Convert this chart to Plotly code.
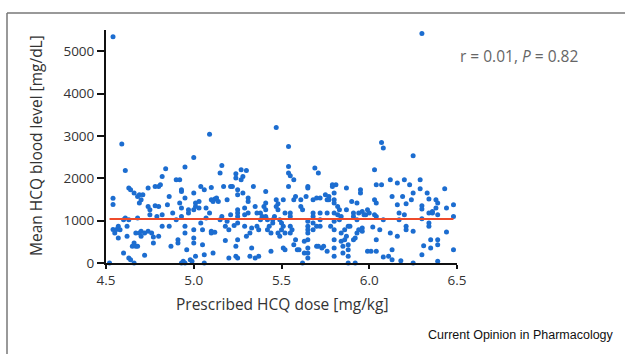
import plotly.graph_objects as go

# Prescribed HCQ dose [mg/kg] for each patient
dose = [
    4.54, 4.52, 4.54, 4.54, 4.55, 4.54, 4.56, 4.57, 4.57, 4.59,
    4.60, 4.61, 4.60, 4.61, 4.58, 4.62, 4.62, 4.63, 4.63, 4.64,
    4.63, 4.64, 4.66, 4.65, 4.66, 4.67, 4.68, 4.66, 4.68, 4.69,
    4.70, 4.71, 4.69, 4.68, 4.67, 4.69, 4.70, 4.70, 4.72, 4.72,
    4.74, 4.74, 4.75, 4.75, 4.74, 4.76, 4.77, 4.77, 4.78, 4.79,
    4.80, 4.80, 4.78, 4.80, 4.81, 4.82, 4.82, 4.82, 4.84, 4.85,
    4.86, 4.86, 4.87, 4.88, 4.90, 4.90, 4.91, 4.92, 4.93, 4.93,
    4.92, 4.93, 4.93, 4.91, 4.93, 4.94, 4.95, 4.95, 4.95, 4.95,
    4.95, 4.96, 4.97, 4.97, 4.98, 4.99, 5.00, 5.00, 5.01, 5.01,
    5.00, 5.00, 5.00, 5.00, 5.01, 5.03, 5.03, 5.04, 5.04, 5.05,
    5.06, 5.05, 5.06, 5.06, 5.07, 5.07, 5.10, 5.10, 5.09, 5.10,
    5.10, 5.09, 5.11, 5.12, 5.11, 5.12, 5.13, 5.14, 5.15, 5.15,
    5.16, 5.16, 5.17, 5.18, 5.18, 5.19, 5.19, 5.20, 5.20, 5.21,
    5.21, 5.22, 5.23, 5.24, 5.24, 5.24, 5.25, 5.25, 5.25, 5.25,
    5.25, 5.25, 5.25, 5.24, 5.25, 5.27, 5.27, 5.28, 5.28, 5.29,
    5.29, 5.29, 5.30, 5.30, 5.31, 5.31, 5.31, 5.32, 5.32, 5.33,
    5.33, 5.34, 5.35, 5.35, 5.36, 5.36, 5.37, 5.37, 5.38, 5.38,
    5.39, 5.40, 5.41, 5.41, 5.41, 5.41, 5.42, 5.42, 5.43, 5.44,
    5.44, 5.45, 5.45, 5.46, 5.47, 5.47, 5.47, 5.48, 5.48, 5.48,
    5.49, 5.49, 5.50, 5.50, 5.51, 5.51, 5.52, 5.51, 5.52, 5.52,
    5.54, 5.54, 5.54, 5.55, 5.54, 5.55, 5.55, 5.55, 5.55, 5.56,
    5.57, 5.57, 5.57, 5.58, 5.58, 5.59, 5.60, 5.61, 5.61, 5.62,
    5.62, 5.63, 5.63, 5.64, 5.65, 5.65, 5.65, 5.65, 5.65, 5.65,
    5.65, 5.65, 5.65, 5.65, 5.68, 5.68, 5.68, 5.68, 5.68, 5.69,
    5.70, 5.70, 5.70, 5.71, 5.71, 5.72, 5.72, 5.72, 5.72, 5.73,
    5.74, 5.75, 5.76, 5.76, 5.76, 5.77, 5.77, 5.78, 5.79, 5.79,
    5.80, 5.80, 5.80, 5.80, 5.80, 5.80, 5.80, 5.80, 5.80, 5.81,
    5.82, 5.82, 5.83, 5.84, 5.83, 5.84, 5.84, 5.85, 5.85, 5.86,
    5.86, 5.87, 5.87, 5.87, 5.88, 5.88, 5.88, 5.88, 5.88, 5.89,
    5.90, 5.91, 5.91, 5.91, 5.92, 5.92, 5.93, 5.93, 5.93, 5.94,
    5.94, 5.95, 5.95, 5.96, 5.96, 5.96, 5.97, 5.98, 5.99, 5.99,
    6.00, 6.01, 6.02, 6.03, 6.03, 6.03, 6.04, 6.04, 6.04, 6.04,
    6.04, 6.06, 6.07, 6.08, 6.07, 6.08, 6.08, 6.11, 6.12, 6.12,
    6.13, 6.13, 6.13, 6.16, 6.16, 6.16, 6.17, 6.17, 6.18, 6.19,
    6.20, 6.21, 6.20, 6.21, 6.21, 6.23, 6.24, 6.25, 6.25, 6.25,
    6.25, 6.29, 6.29, 6.30, 6.30, 6.30, 6.30, 6.30, 6.31, 6.33,
    6.34, 6.34, 6.34, 6.34, 6.35, 6.35, 6.36, 6.36, 6.38, 6.39,
    6.38, 6.39, 6.39, 6.39, 6.39, 6.43, 6.44, 6.44, 6.48, 6.48,
    6.48,
]

# Mean HCQ blood level [mg/dL] for each patient
level = [
    5340, 0, 1530, 1380, 710, 790, 790, 590, 865, 2810,
    236, 2185, 1022, 1061, 786, 865, 629, 1022, 1769, 1729,
    118, 79, 0, 393, 472, 393, 393, 1651, 1572, 1611,
    1493, 1611, 1415, 1061, 707, 707, 629, 747, 707, 181,
    1769, 1336, 1258, 1140, 747, 707, 613, 472, 1352, 1100,
    1336, 629, 1808, 1808, 1847, 2044, 1140, 865, 2224, 1376,
    865, 1572, 393, 1179, 1965, 1022, 550, 1965, 1729, 1690,
    1415, 1297, 1100, 472, 0, 39, 2264, 1533, 865, 707,
    0, 314, 1258, 1179, 79, 39, 2492, 1651, 1415, 1336,
    1258, 786, 590, 472, 157, 1454, 1297, 943, 1808, 786,
    1729, 432, 0, 197, 1297, 1061, 1784, 1493, 1179, 747,
    707, 3042, 1454, 1509, 236, 723, 1533, 1454, 2122, 1022,
    1100, 2303, 1808, 865, 534, 1493, 983, 786, 118, 1140,
    1808, 1808, 888, 393, 2106, 2004, 1729, 1611, 1258, 1179,
    1100, 943, 550, 157, 118, 1965, 2200, 2044, 1651, 1297,
    1140, 865, 629, 2185, 1533, 1454, 1179, 707, 157, 825,
    354, 1808, 118, 1336, 865, 1179, 786, 157, 1179, 1022,
    1100, 1336, 1415, 1690, 1258, 1100, 1022, 786, 865, 275,
    707, 1022, 943, 1100, 1493, 1336, 3199, 1399, 707, 1258,
    629, 1022, 943, 786, 1493, 354, 314, 865, 707, 1179,
    2751, 2279, 2122, 2059, 1808, 1100, 865, 707, 1179, 786,
    432, 1493, 1965, 1572, 550, 314, 314, 1493, 1336, 0,
    1258, 511, 236, 1572, 1808, 1769, 983, 865, 786, 707,
    550, 354, 236, 118, 1493, 1179, 1100, 943, 786, 2240,
    1533, 393, 865, 393, 2122, 1179, 1533, 1022, 865, 354,
    393, 1611, 1493, 1179, 275, 1572, 1493, 865, 1847, 1808,
    1651, 1493, 1415, 1179, 983, 786, 550, 354, 157, 1847,
    1336, 1140, 1258, 1100, 1022, 707, 511, 393, 236, 786,
    550, 1769, 1258, 629, 432, 314, 0, 157, 865, 865,
    1454, 1179, 1100, 550, 0, 590, 1415, 1022, 707, 786,
    1179, 1729, 1651, 825, 747, 1218, 1140, 1140, 275, 1258,
    1179, 275, 849, 2200, 1140, 1493, 1100, 1415, 1847, 550,
    275, 786, 2845, 2712, 1847, 1022, 141, 157, 1965, 707,
    1572, 314, 79, 1886, 1376, 629, 1022, 1179, 55, 1572,
    1965, 1399, 1140, 865, 786, 1847, 1493, 2531, 747, 0,
    1651, 1965, 1753, 1352, 1273, 1045, 197, 5417, 409, 1651,
    1509, 1179, 943, 865, 550, 354, 1179, 1218, 1493, 1415,
    1297, 1140, 550, 432, 39, 1753, 1297, 731, 1376, 1100,
    314,
]

# Mean level line (red) across the dose range
mean_line_x = [4.52, 6.48]
mean_line_y = [1040, 1040]

x_ticks = [4.5, 5.0, 5.5, 6.0, 6.5]
x_tick_labels = ["4.5", "5.0", "5.5", "6.0", "6.5"]
y_ticks = [0, 1000, 2000, 3000, 4000, 5000]
y_tick_labels = ["0", "1000", "2000", "3000", "4000", "5000"]

W, H = 625, 354
L, R, T, B = 106, 168, 30, 91
pw, ph = W - L - R, H - T - B

fig = go.Figure()
fig.add_trace(go.Scatter(
    x=dose, y=level, mode="markers",
    marker=dict(color="#1c6dd0", size=5, line=dict(width=0)),
    cliponaxis=False, showlegend=False, hoverinfo="skip",
))
fig.add_trace(go.Scatter(
    x=mean_line_x, y=mean_line_y, mode="lines",
    line=dict(color="#ee4b2b", width=2),
    cliponaxis=False, showlegend=False, hoverinfo="skip",
))

axis_font = dict(family="Open Sans", size=13.5, color="#333333")
fig.update_xaxes(
    range=[4.5, 6.5], tickvals=x_ticks, ticktext=x_tick_labels,
    showgrid=False, zeroline=False, showline=True, linecolor="#111111", linewidth=2,
    ticks="outside", ticklen=4, tickwidth=2, tickcolor="#111111",
    tickfont=axis_font,
)
fig.update_yaxes(
    range=[0, 5500], tickvals=y_ticks, ticktext=y_tick_labels,
    showgrid=False, zeroline=False, showline=True, linecolor="#111111", linewidth=2,
    ticks="outside", ticklen=7, tickwidth=2, tickcolor="#111111",
    tickfont=axis_font,
)

def px_x(p):
    return (p - L) / pw

def px_y(p):
    return 1 - (p - T) / ph

annotations = [
    dict(text="Mean HCQ blood level [mg/dL]", textangle=-90,
         x=px_x(36), y=px_y(146), xref="paper", yref="paper",
         showarrow=False, xanchor="center", yanchor="middle",
         font=dict(family="Open Sans", size=15.5, color="#333333")),
    dict(text="Prescribed HCQ dose [mg/kg]",
         x=px_x(282), y=px_y(304), xref="paper", yref="paper",
         showarrow=False, xanchor="center", yanchor="middle",
         font=dict(family="Open Sans", size=15.5, color="#333333")),
    dict(text="r = 0.01, <i>P</i> = 0.82",
         x=px_x(519), y=px_y(56), xref="paper", yref="paper",
         showarrow=False, xanchor="center", yanchor="middle",
         font=dict(family="Open Sans", size=15.5, color="#666666")),
    dict(text="Current Opinion in Pharmacology",
         x=px_x(616), y=px_y(335), xref="paper", yref="paper",
         showarrow=False, xanchor="right", yanchor="middle",
         font=dict(family="Liberation Sans", size=12.5, color="#111111")),
]

shapes = [
    dict(type="line", xref="paper", yref="paper",
         x0=px_x(7), x1=px_x(W + 5), y0=px_y(13), y1=px_y(13),
         line=dict(color="#777777", width=1.5)),
    dict(type="line", xref="paper", yref="paper",
         x0=px_x(7), x1=px_x(7), y0=px_y(13), y1=px_y(H + 5),
         line=dict(color="#777777", width=1.5)),
]

fig.update_layout(
    width=W, height=H,
    margin=dict(l=L, r=R, t=T, b=B, pad=0),
    plot_bgcolor="white", paper_bgcolor="white",
    annotations=annotations, shapes=shapes,
    showlegend=False,
)

fig.write_html(
    "out.html",
    config={"displayModeBar": False},
    post_script="document.body.style.margin='0';document.body.style.overflow='hidden';",
)
